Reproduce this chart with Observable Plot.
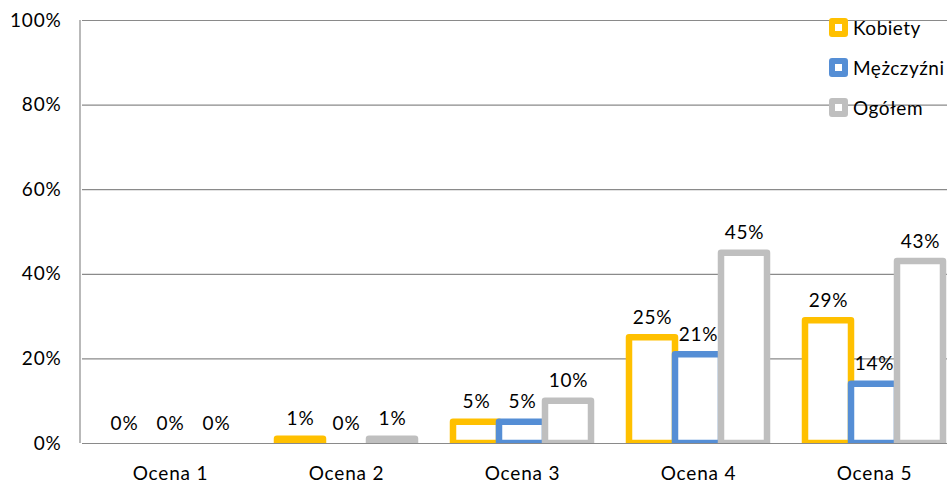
<!DOCTYPE html>
<html>
<head>
<meta charset="utf-8">
<script src="https://cdn.jsdelivr.net/npm/d3@7"></script>
<script src="https://cdn.jsdelivr.net/npm/@observablehq/plot@0.6"></script>
<style>
  html, body { margin: 0; padding: 0; background: #fff; }
  #wrap { position: relative; width: 947px; height: 488px; font-family: Lato, "Open Sans", sans-serif; }
  #wrap svg text { letter-spacing: 0.8px; }
  #legend { position: absolute; left: 829px; top: 17px; }
  .item { display: flex; align-items: center; height: 20px; margin-bottom: 20px; font-size: 19px; color: #000; letter-spacing: 0.5px; }
  .sw { box-sizing: border-box; width: 19px; height: 19px; border-radius: 3px; border: 6.5px solid; background: #fff; margin-right: 5px; }
</style>
</head>
<body>
<div id="wrap"></div>
<script>
const categories = ["Ocena 1", "Ocena 2", "Ocena 3", "Ocena 4", "Ocena 5"];
const series = ["Kobiety", "Mężczyźni", "Ogółem"];
const kobiety = [0, 1, 5, 25, 29];
const mezczyzni = [0, 0, 5, 21, 14];
const ogolem = [0, 1, 10, 45, 43];
const yTicks = [0, 20, 40, 60, 80, 100];
const colors = ["#FFC000", "#558ED5", "#BFBFBF"];

const values = [kobiety, mezczyzni, ogolem];
const rows = [];
series.forEach((s, si) => categories.forEach((c, ci) => rows.push({cat: c, ser: s, v: values[si][ci]})));

const font = "Lato, 'Open Sans', sans-serif";

const chart = Plot.plot({
  width: 947,
  height: 488,
  marginLeft: 80,
  marginRight: 0,
  marginTop: 20,
  marginBottom: 45,
  style: {fontFamily: font, fontSize: "19px", color: "#000", background: "#fff", overflow: "visible"},
  fx: {domain: categories, range: [80, 963], padding: 0, label: null, tickSize: 0, tickPadding: 23},
  x: {domain: series, paddingInner: 0, paddingOuter: 0.373, axis: null},
  y: {domain: [0, 100], ticks: yTicks, tickFormat: d => d + "%", tickSize: 0, tickPadding: 21, label: null},
  color: {domain: series, range: colors},
  marks: [
    Plot.ruleY(yTicks, {stroke: "#8a8a8a", strokeWidth: 1.2}),
    Plot.barY(rows.filter(d => d.v > 0), {
      fx: "cat", x: "ser", y: "v", fill: "white", stroke: "ser",
      strokeWidth: 6.5, strokeLinejoin: "round", clip: "frame"
    }),
    Plot.ruleY([0], {stroke: "#8a8a8a", strokeWidth: 1.2}),
    Plot.text(rows, {fx: "cat", x: "ser", y: "v", text: d => d.v + "%", dy: -20, fill: "#000", fontSize: 19})
  ]
});

const wrap = document.getElementById("wrap");
wrap.appendChild(chart);

// left axis line drawn along the y scale
const svg = d3.select(chart);
const ys = chart.scale("y");
svg.append("line")
  .attr("x1", 80).attr("x2", 80)
  .attr("y1", ys.apply(0)).attr("y2", ys.apply(100))
  .attr("stroke", "#8a8a8a").attr("stroke-width", 1.2);

const legend = document.createElement("div");
legend.id = "legend";
series.forEach((s, i) => {
  const it = document.createElement("div");
  it.className = "item";
  const sw = document.createElement("span");
  sw.className = "sw";
  sw.style.borderColor = colors[i];
  const t = document.createElement("span");
  t.textContent = s;
  it.appendChild(sw);
  it.appendChild(t);
  legend.appendChild(it);
});
wrap.appendChild(legend);
</script>
</body>
</html>
